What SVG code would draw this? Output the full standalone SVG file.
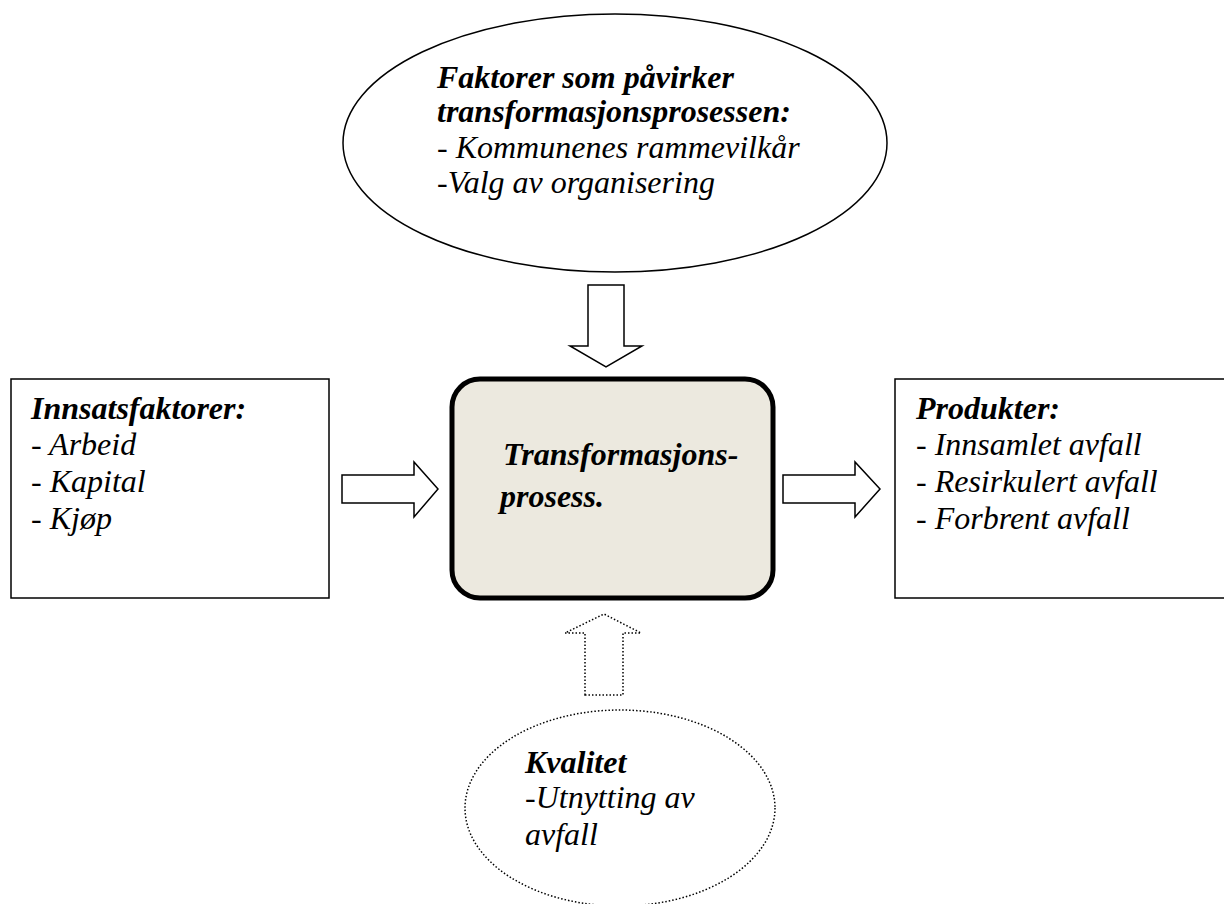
<svg xmlns="http://www.w3.org/2000/svg" width="1224" height="904" viewBox="0 0 1224 904">
<style>
text{font-family:'Liberation Serif','DejaVu Serif','Noto Serif',serif;font-style:italic;font-size:32px;fill:#000}
.b{font-weight:bold}
.solid{fill:#fff;stroke:#000;stroke-width:1.5}
.dot{fill:#fff;stroke:#000;stroke-width:1.5;stroke-dasharray:1.5 2}
</style>
<rect width="1224" height="904" fill="#fff"/>
<g id="factors">
<ellipse class="solid" cx="615" cy="143" rx="272" ry="129"/>
<text x="437" y="88" class="b">Faktorer som påvirker</text>
<text x="437" y="122" class="b">transformasjonsprosessen:</text>
<text x="437" y="158">- Kommunenes rammevilkår</text>
<text x="437" y="193">-Valg av organisering</text>
</g>
<g id="inputs">
<rect class="solid" x="11" y="379" width="318" height="219"/>
<text x="31" y="419" class="b">Innsatsfaktorer:</text>
<text x="31" y="455">- Arbeid</text>
<text x="31" y="492">- Kapital</text>
<text x="31" y="529">- Kjøp</text>
</g>
<g id="process">
<rect x="452" y="379" width="321" height="219" rx="28" fill="#ECE9DF" stroke="#000" stroke-width="5"/>
<text x="503" y="465" class="b">Transformasjons-</text>
<text x="500" y="507" class="b">prosess.</text>
</g>
<g id="products">
<rect class="solid" x="895" y="379" width="335" height="219"/>
<text x="916" y="419" class="b">Produkter:</text>
<text x="916" y="455">- Innsamlet avfall</text>
<text x="916" y="492">- Resirkulert avfall</text>
<text x="916" y="529">- Forbrent avfall</text>
</g>
<g id="quality">
<ellipse class="dot" cx="620" cy="808" rx="155" ry="98"/>
<text x="525" y="773" class="b">Kvalitet</text>
<text x="525" y="808">-Utnytting av</text>
<text x="525" y="845">avfall</text>
</g>
<g id="connectors">
<path class="solid" d="M588 285 H624 V346 H642 L606 367 L570 346 H588 Z"/>
<path class="solid" d="M342 475 H414 V462 L438 489 L414 517 V503 H342 Z"/>
<path class="solid" d="M783 475 H855 V462 L880 489 L855 517 V503 H783 Z"/>
<path class="dot" d="M585 695 V633 H565 L604 614 L641 633 H623 V695 Z"/>
</g>
</svg>
